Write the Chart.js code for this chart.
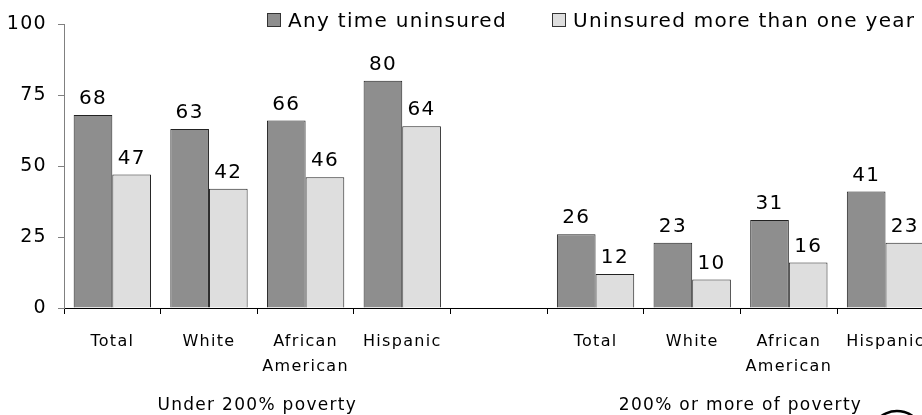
<!DOCTYPE html>
<html>
<head>
<meta charset="utf-8">
<script src="https://cdn.jsdelivr.net/npm/chart.js@4"></script>
<style>
  html, body { margin: 0; padding: 0; background: #fff; overflow: hidden; }
  #wrap { position: relative; width: 940px; height: 415px; }
</style>
</head>
<body>
<div id="wrap"><canvas id="chart"></canvas></div>
<script>
const categories = ["Total", "White", ["African", "American"], "Hispanic", "",
                    "Total", "White", ["African", "American"], "Hispanic"];
const anyTime = [68, 63, 66, 80, null, 26, 23, 31, 41];
const overYear = [47, 42, 46, 64, null, 12, 10, 16, 23];
const seriesNames = ["Any time uninsured", "Uninsured more than one year"];
const groupNames = ["Under 200% poverty", "200% or more of poverty"];
const groupSpans = [[0, 3], [5, 8]];

const FONT = "'DejaVu Sans', sans-serif";
const DARK = "#8e8e8e";
const LIGHT = "#dedede";

function spacing(chart) {
  chart.ctx.letterSpacing = "1.3px";
}

// value labels, legend, group captions
const extras = {
  id: "extras",
  beforeLayout: spacing,
  beforeDraw: spacing,
  afterDatasetsDraw(chart) {
    const ctx = chart.ctx;
    ctx.save();
    ctx.font = "20px " + FONT;
    ctx.fillStyle = "#000";
    ctx.textAlign = "center";
    ctx.textBaseline = "alphabetic";
    chart.data.datasets.forEach((ds, i) => {
      chart.getDatasetMeta(i).data.forEach((bar, j) => {
        if (ds.data[j] == null) return;
        ctx.fillText(ds.data[j], bar.x, bar.y - 11);
      });
    });
    ctx.restore();
  },
  afterDraw(chart) {
    const ctx = chart.ctx;
    const x = chart.scales.x;
    ctx.save();

    // legend
    const legendX = [267, 552];
    ctx.font = "20px " + FONT;
    ctx.textBaseline = "alphabetic";
    ctx.textAlign = "left";
    chart.data.datasets.forEach((ds, i) => {
      ctx.fillStyle = ds.backgroundColor;
      ctx.fillRect(legendX[i], 13, 13, 13);
      ctx.strokeStyle = "#333";
      ctx.lineWidth = 1;
      ctx.strokeRect(legendX[i] + 0.5, 13.5, 13, 13);
      ctx.fillStyle = "#000";
      ctx.fillText(seriesNames[i], legendX[i] + 21, 27);
    });

    // group captions under the axis
    ctx.font = "17px " + FONT;
    ctx.textAlign = "center";
    groupSpans.forEach((span, i) => {
      const cx = (x.getPixelForValue(span[0]) + x.getPixelForValue(span[1])) / 2;
      ctx.fillText(groupNames[i], cx, 410);
    });

    // corner of the logo, cut off by the page edge
    ctx.beginPath();
    ctx.ellipse(897, 432, 24, 21, 0, Math.PI * 1.1, Math.PI * 1.95);
    ctx.lineWidth = 2.5;
    ctx.strokeStyle = "#000";
    ctx.stroke();
    ctx.restore();
  }
};

new Chart(document.getElementById("chart"), {
  type: "bar",
  data: {
    labels: categories,
    datasets: [
      {
        label: seriesNames[0],
        data: anyTime,
        backgroundColor: DARK,
        borderColor: "#222",
        borderWidth: 1,
        categoryPercentage: 0.8,
        barPercentage: 1.0
      },
      {
        label: seriesNames[1],
        data: overYear,
        backgroundColor: LIGHT,
        borderColor: "#222",
        borderWidth: 1,
        categoryPercentage: 0.8,
        barPercentage: 1.0
      }
    ]
  },
  options: {
    responsive: true,
    maintainAspectRatio: false,
    animation: false,
    layout: { padding: { top: 24, right: 4, left: 0, bottom: 0 } },
    plugins: {
      legend: { display: false },
      tooltip: { enabled: false }
    },
    scales: {
      x: {
        afterFit(s) { s.height = 107; },
        grid: {
          offset: true,
          drawOnChartArea: false,
          tickLength: 6,
          color: "#000"
        },
        border: { color: "#000", width: 1 },
        ticks: {
          color: "#000",
          padding: 15,
          maxRotation: 0,
          autoSkip: false,
          font: { family: FONT, size: 16, lineHeight: 1.5625 }
        }
      },
      y: {
        min: 0,
        max: 100,
        afterFit(s) { s.width = 64; },
        grid: {
          drawOnChartArea: false,
          tickLength: 6,
          color: "#808080"
        },
        border: { color: "#808080", width: 1 },
        ticks: {
          stepSize: 25,
          color: "#000",
          padding: 11,
          font: { family: FONT, size: 19 }
        }
      }
    }
  },
  plugins: [extras]
});
</script>
</body>
</html>
